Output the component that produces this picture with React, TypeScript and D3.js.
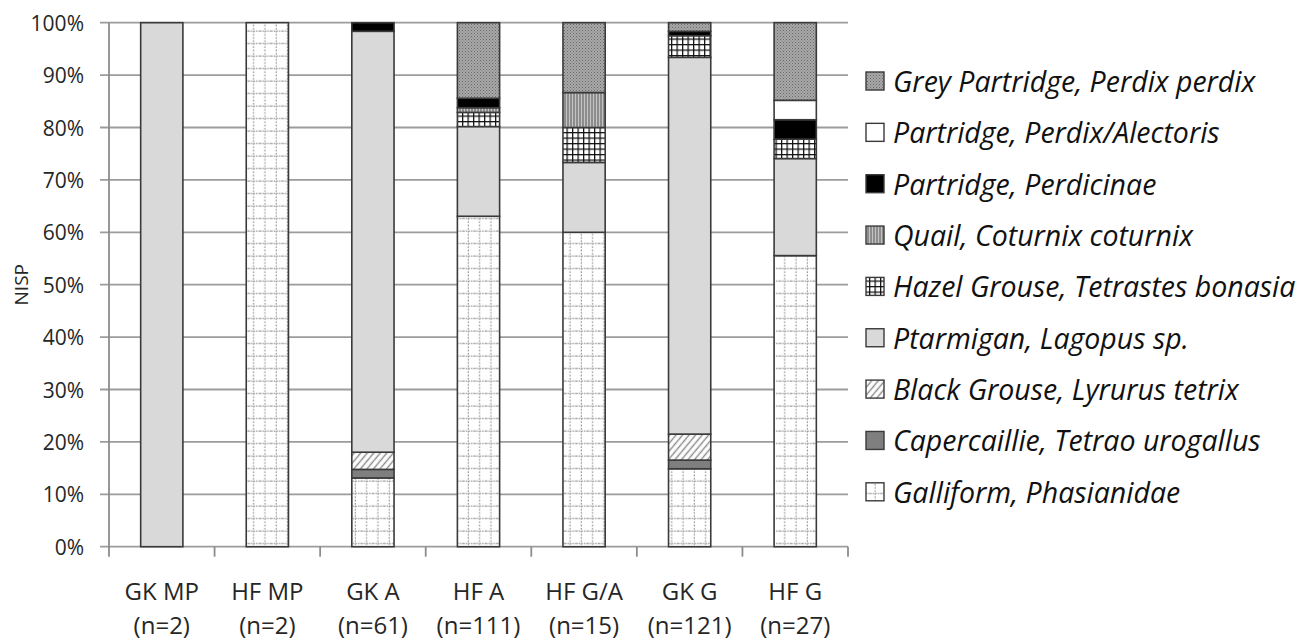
import React from "react";
import * as d3 from "d3";

const categories = ["GK MP", "HF MP", "GK A", "HF A", "HF G/A", "GK G", "HF G"];
const sampleLabels = ["(n=2)", "(n=2)", "(n=61)", "(n=111)", "(n=15)", "(n=121)", "(n=27)"];

// counts (NISP) per taxon, in category order
const galliform = [0, 2, 8, 70, 9, 18, 15];
const capercaillie = [0, 0, 1, 0, 0, 2, 0];
const blackGrouse = [0, 0, 2, 0, 0, 6, 0];
const ptarmigan = [2, 0, 49, 19, 2, 87, 5];
const hazelGrouse = [0, 0, 0, 3, 1, 5, 1];
const quail = [0, 0, 0, 1, 1, 0, 0];
const perdicinae = [0, 0, 1, 2, 0, 1, 1];
const perdixAlectoris = [0, 0, 0, 0, 0, 0, 1];
const greyPartridge = [0, 0, 0, 16, 2, 2, 4];

const seriesKeys = ["galliform", "capercaillie", "blackGrouse", "ptarmigan", "hazel", "quail", "perdicinae", "perdixAlectoris", "grey"];
const seriesNames = [
  "Galliform, Phasianidae",
  "Capercaillie, Tetrao urogallus",
  "Black Grouse, Lyrurus tetrix",
  "Ptarmigan, Lagopus sp.",
  "Hazel Grouse, Tetrastes bonasia",
  "Quail, Coturnix coturnix",
  "Partridge, Perdicinae",
  "Partridge, Perdix/Alectoris",
  "Grey Partridge, Perdix perdix",
];
const seriesValues = [galliform, capercaillie, blackGrouse, ptarmigan, hazelGrouse, quail, perdicinae, perdixAlectoris, greyPartridge];
const seriesFills = [
  "url(#pGalliform)",
  "#7f7f7f",
  "url(#pBlack)",
  "#d9d9d9",
  "url(#pHazel)",
  "url(#pQuail)",
  "#000000",
  "#ffffff",
  "url(#pGrey)",
];
const yTicks = [0, 0.1, 0.2, 0.3, 0.4, 0.5, 0.6, 0.7, 0.8, 0.9, 1.0];

const W = 1311, H = 644;
const plotLeft = 109, plotRight = 848, plotTop = 22.7, plotBottom = 546.7;

export default function App() {
  const rows = categories.map((c, i) => {
    const r: any = { cat: c };
    seriesKeys.forEach((k, j) => (r[k] = seriesValues[j][i]));
    return r;
  });
  const stack = d3.stack().keys(seriesKeys).offset(d3.stackOffsetExpand);
  const stacked = stack(rows);

  const x = d3.scaleBand().domain(categories).range([plotLeft, plotRight]).paddingInner(0.6).paddingOuter(0.3);
  const xOuter = d3.scaleBand().domain(categories).range([plotLeft, plotRight]);
  const y = d3.scaleLinear().domain([0, 1]).range([plotBottom, plotTop]);
  const fmt = d3.format(".0%");
  const font = "'Open Sans', Lato, sans-serif";

  const legendTop = 81, legendStep = 51.35;
  const legendOrder = [...seriesKeys.keys()].reverse();

  return (
    <svg width={W} height={H} style={{ position: "absolute", left: 0, top: 0, background: "#fff" }}>
      <defs>
        <pattern id="pGalliform" patternUnits="userSpaceOnUse" width="11.3" height="12.5">
          <rect width="11.3" height="12.5" fill="#fff" />
          <line x1="5" y1="0" x2="5" y2="12.5" stroke="#8a8a8a" strokeWidth="1" strokeDasharray="1.5 1.5" />
          <line x1="0" y1="6" x2="11.3" y2="6" stroke="#7a7a7a" strokeWidth="1" strokeDasharray="1.5 1" />
        </pattern>
        <pattern id="pHazel" patternUnits="userSpaceOnUse" width="5.5" height="5.5">
          <rect width="5.5" height="5.5" fill="#fff" />
          <line x1="0.6" y1="0" x2="0.6" y2="5.5" stroke="#111" strokeWidth="1.3" />
          <line x1="0" y1="0.6" x2="5.5" y2="0.6" stroke="#111" strokeWidth="1.3" />
        </pattern>
        <pattern id="pQuail" patternUnits="userSpaceOnUse" width="3" height="3">
          <rect width="3" height="3" fill="#c4c4c4" />
          <line x1="1" y1="0" x2="1" y2="3" stroke="#555" strokeWidth="1" />
        </pattern>
        <pattern id="pBlack" patternUnits="userSpaceOnUse" width="5" height="5" patternTransform="rotate(40)">
          <rect width="5" height="5" fill="#fff" />
          <line x1="2.5" y1="0" x2="2.5" y2="5" stroke="#8a8a8a" strokeWidth="1.4" />
        </pattern>
        <pattern id="pGrey" patternUnits="userSpaceOnUse" width="3" height="3">
          <rect width="3" height="3" fill="#a8a8a8" />
          <rect x="0" y="0" width="1" height="1" fill="#6a6a6a" />
          <rect x="1.5" y="1.5" width="1" height="1" fill="#7a7a7a" />
        </pattern>
      </defs>

      {/* gridlines */}
      {yTicks.map((t) => (
        <line key={"g" + t} x1={plotLeft - 9} x2={plotRight} y1={y(t)} y2={y(t)} stroke="#9c9c9c" strokeWidth={1.8} />
      ))}
      {/* y axis */}
      <line x1={plotLeft} x2={plotLeft} y1={plotTop} y2={plotBottom + 10} stroke="#8c8c8c" strokeWidth={1.8} />
      {/* x ticks */}
      {categories.map((c) => (
        <line key={"t" + c} x1={(xOuter(c) as number) + xOuter.bandwidth()} x2={(xOuter(c) as number) + xOuter.bandwidth()} y1={plotBottom} y2={plotBottom + 10} stroke="#8c8c8c" strokeWidth={1.8} />
      ))}
      {yTicks.map((t) => (
        <text key={"yl" + t} x={84} y={y(t)} textAnchor="end" dominantBaseline="central" fontFamily={font} fontSize={21} fill="#262626">
          {fmt(t)}
        </text>
      ))}
      <text transform={`translate(21,${(plotTop + plotBottom) / 2}) rotate(-90)`} textAnchor="middle" dominantBaseline="central" fontFamily={font} fontSize={19} fill="#262626">
        NISP
      </text>

      {/* bars */}
      {stacked.map((s, j) => (
        <g key={s.key}>
          {s.map((d, i) => {
            const h = y(d[0]) - y(d[1]);
            if (h <= 0.01) return null;
            return (
              <rect key={i} x={x(categories[i])} y={y(d[1])} width={x.bandwidth()} height={h} fill={seriesFills[j]} stroke="#3a3a3a" strokeWidth={1.6} />
            );
          })}
        </g>
      ))}

      {/* x labels */}
      {categories.map((c, i) => {
        const cx = (xOuter(c) as number) + xOuter.bandwidth() / 2;
        return (
          <g key={"xl" + c} fontFamily={font} fontSize={24} fill="#262626" textAnchor="middle">
            <text x={cx} y={600}>{c}</text>
            <text x={cx} y={634}>{sampleLabels[i]}</text>
          </g>
        );
      })}

      {/* legend */}
      {legendOrder.map((j, r) => {
        const cy = legendTop + r * legendStep;
        return (
          <g key={"lg" + j}>
            <rect x={866} y={cy - 9} width={18} height={18} fill={seriesFills[j]} stroke="#3a3a3a" strokeWidth={1.4} />
            <text x={893} y={cy} dominantBaseline="central" fontFamily={font} fontStyle="italic" fontSize={28.5} fill="#111">
              {seriesNames[j]}
            </text>
          </g>
        );
      })}
    </svg>
  );
}
